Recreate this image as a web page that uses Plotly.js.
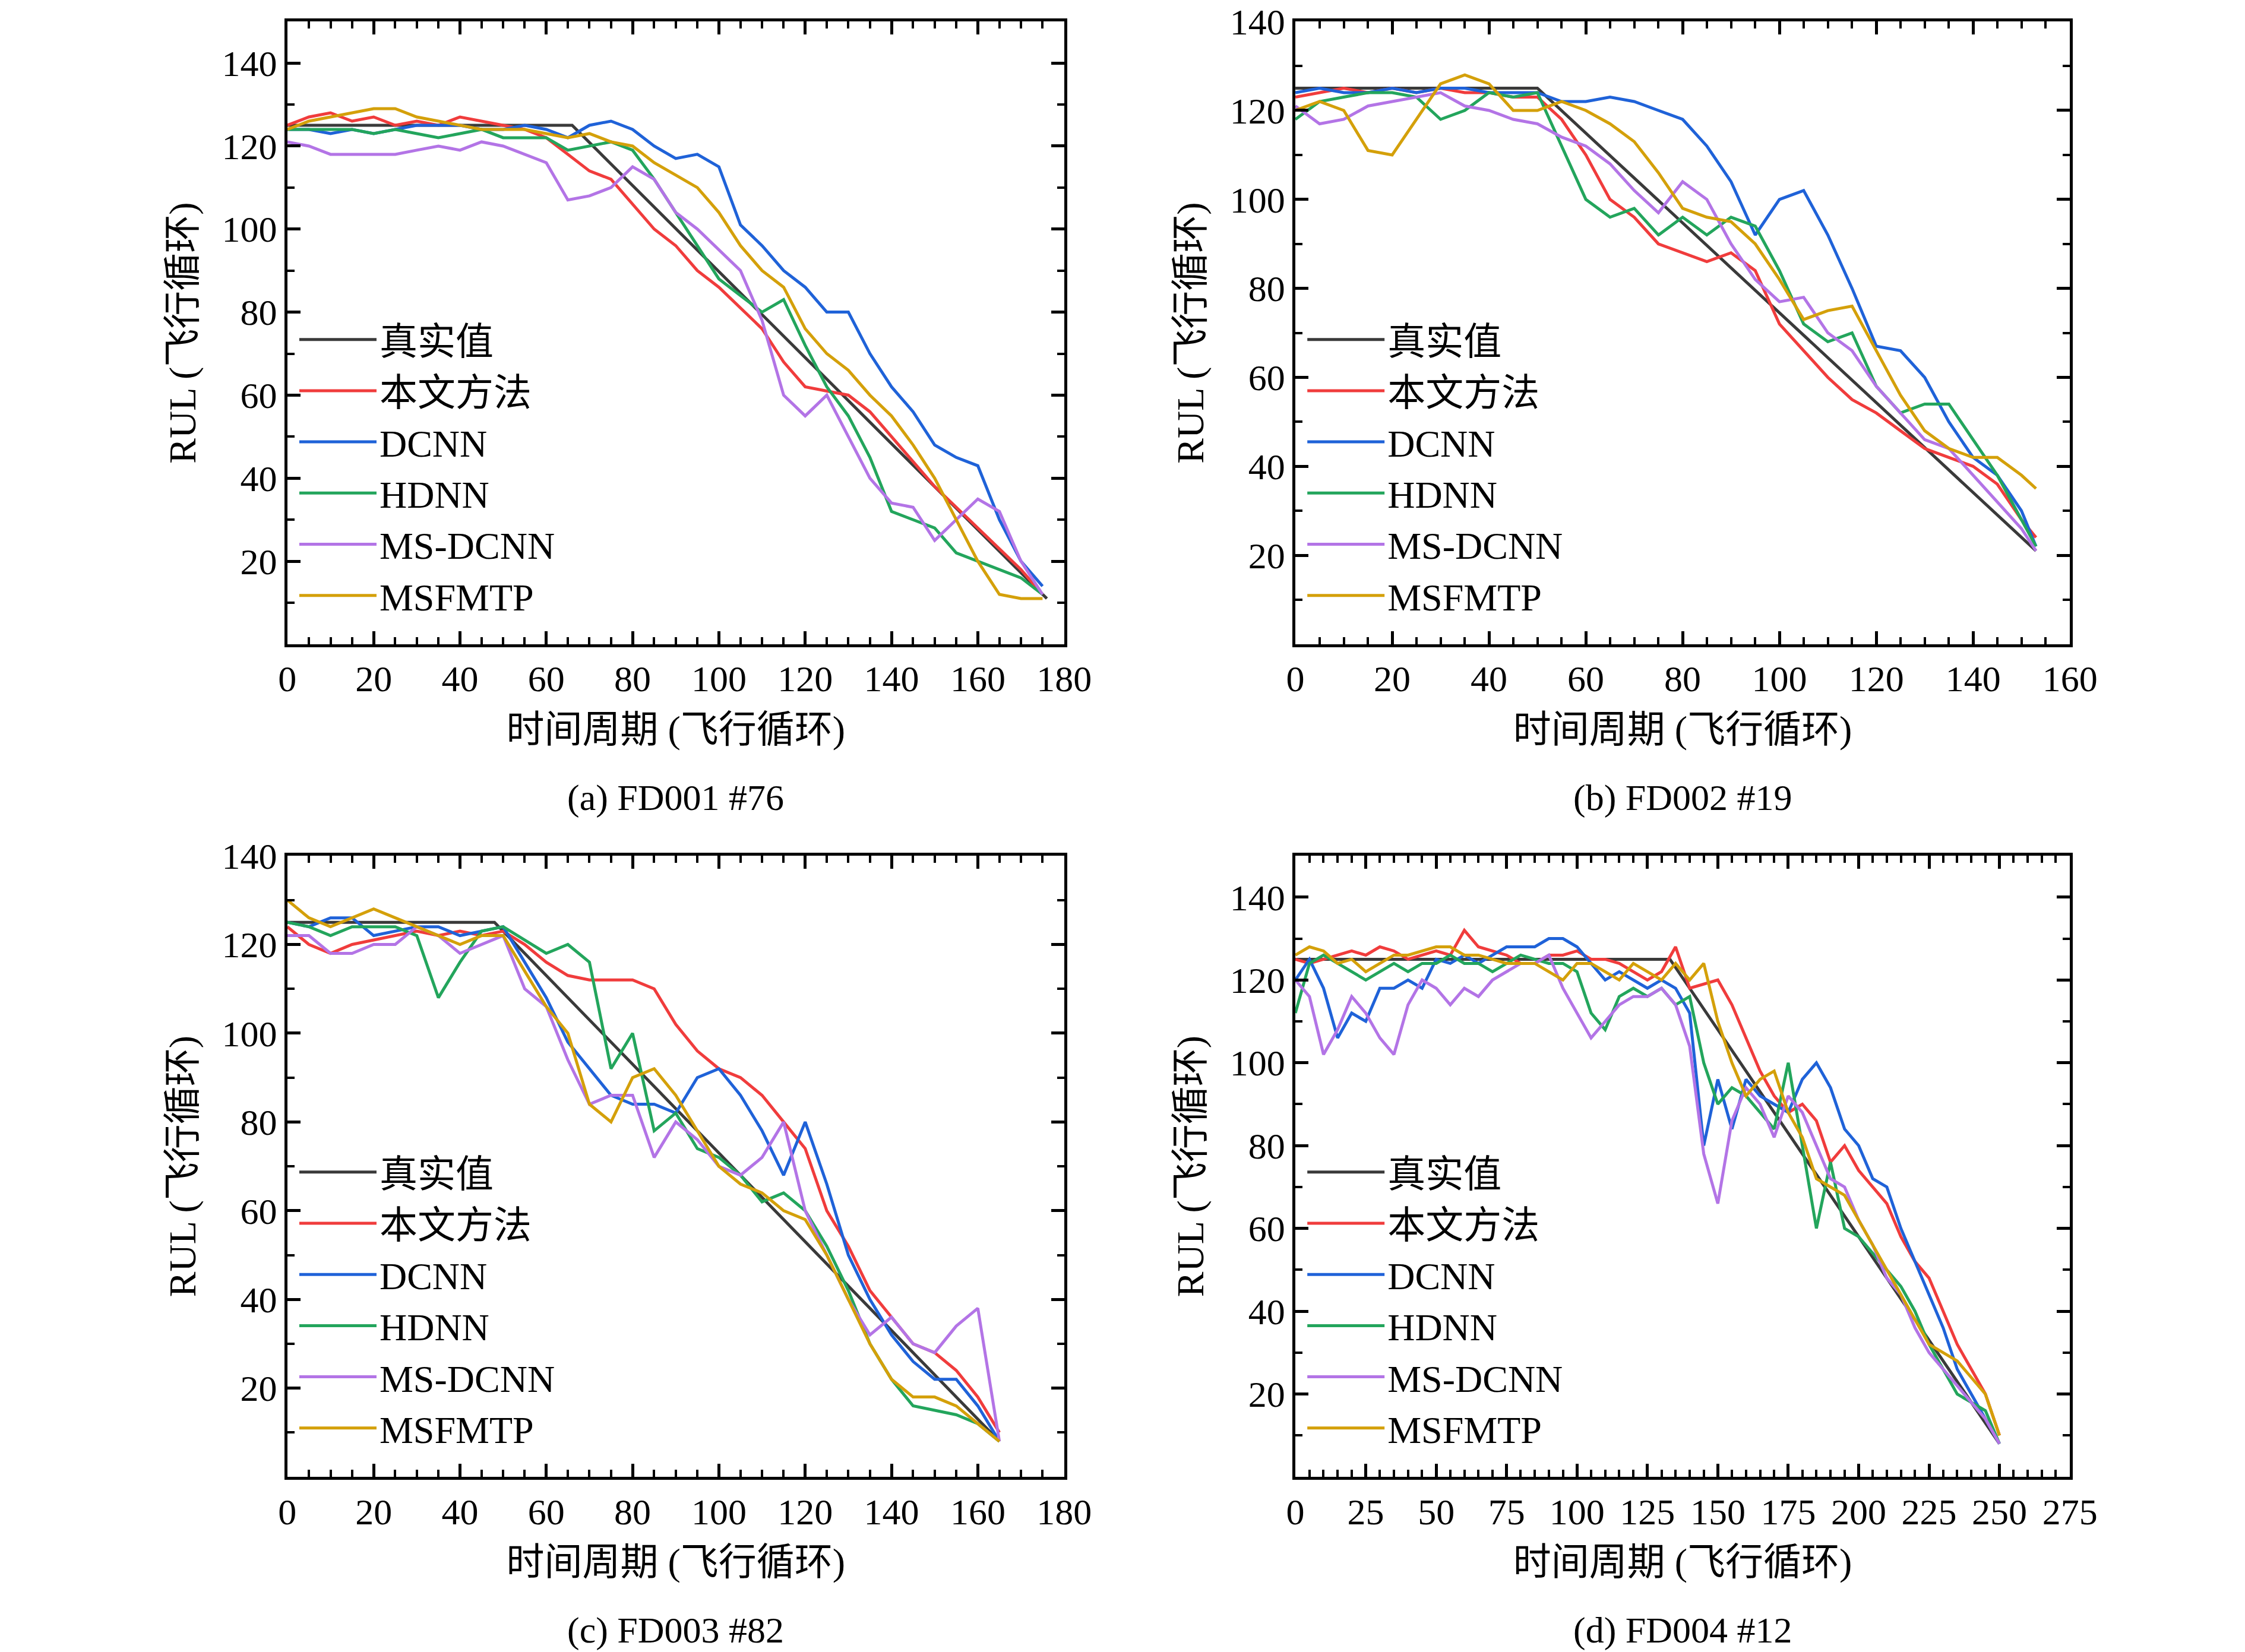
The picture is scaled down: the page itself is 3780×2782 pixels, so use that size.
<!DOCTYPE html>
<html>
<head>
<meta charset="utf-8">
<script src="https://cdn.plot.ly/plotly-3.0.1.min.js"></script>
<style>body{margin:0;background:#fff}#chart{width:3780px;height:2782px}</style>
</head>
<body>
<div id="chart"></div>
<script>
const names = ['真实值', '本文方法', 'DCNN', 'HDNN', 'MS-DCNN', 'MSFMTP'];
const colors = ['#3a3a3a', '#f03c3c', '#1f62d8', '#23a55c', '#b374e6', '#d4a00a'];

// (a) FD001 #76
const xA = [0,5,10,15,20,25,30,35,40,45,50,55,60,65,70,75,80,85,90,95,100,105,110,115,120,125,130,135,140,145,150,155,160,165,170,175];
const trueA = {x: [0, 66, 176], y: [125, 125, 11]};
const redA = [125,127,128,126,127,125,126,125,127,126,125,124,122,118,114,112,106,100,96,90,86,81,76,68,62,61,60,56,50,44,38,33,28,23,18,12];
const blueA = [124,124,123,124,123,124,125,125,125,124,124,125,124,122,125,126,124,120,117,118,115,101,96,90,86,80,80,70,62,56,48,45,43,30,20,14];
const greenA = [124,124,124,124,123,124,123,122,123,124,122,122,122,119,120,121,119,112,104,96,88,84,80,83,72,62,55,45,32,30,28,22,20,18,16,12];
const purpleA = [121,120,118,118,118,118,119,120,119,121,120,118,116,107,108,110,115,112,104,100,95,90,78,60,55,60,50,40,34,33,25,30,35,32,20,12];
const goldA = [124,126,127,128,129,129,127,126,125,124,124,124,123,122,123,121,120,116,113,110,104,96,90,86,76,70,66,60,55,48,40,30,20,12,11,11];

// (b) FD002 #19
const xB = [0,5,10,15,20,25,30,35,40,45,50,55,60,65,70,75,80,85,90,95,100,105,110,115,120,125,130,135,140,145,150,153];
const trueB = {x: [0, 50, 153], y: [125, 125, 21]};
const redB = [123,124,125,124,125,124,125,124,124,123,123,118,110,100,96,90,88,86,88,84,72,66,60,55,52,48,44,42,40,36,28,24];
const blueB = [124,125,124,124,125,124,125,125,124,124,124,122,122,123,122,120,118,112,104,92,100,102,92,80,67,66,60,50,42,38,30,22];
const greenB = [118,122,123,124,124,123,118,120,124,123,124,112,100,96,98,92,96,92,96,94,84,72,68,70,58,52,54,54,46,38,28,22];
const purpleB = [121,117,118,121,122,123,124,121,120,118,117,114,112,108,102,97,104,100,90,82,77,78,70,66,58,52,46,44,38,32,26,21];
const goldB = [120,122,120,111,110,118,126,128,126,120,120,122,120,117,113,106,98,96,95,90,82,73,75,76,66,56,48,44,42,42,38,35];

// (c) FD003 #82
const xC = [0,5,10,15,20,25,30,35,40,45,50,55,60,65,70,75,80,85,90,95,100,105,110,115,120,125,130,135,140,145,150,155,160,165];
const trueC = {x: [0, 48, 165], y: [125, 125, 8]};
const redC = [124,120,118,120,121,122,123,122,123,122,123,120,116,113,112,112,112,110,102,96,92,90,86,80,74,60,52,42,36,30,28,24,18,10];
const blueC = [125,124,126,126,122,123,124,124,122,123,124,116,108,98,92,86,84,84,82,90,92,86,78,68,80,66,50,40,32,26,22,22,16,8];
const greenC = [125,124,122,124,124,124,122,108,116,123,124,121,118,120,116,92,100,78,82,74,72,68,62,64,60,52,42,30,22,16,15,14,12,8];
const purpleC = [122,122,118,118,120,120,124,122,118,120,122,110,106,94,84,86,86,72,80,76,70,68,72,80,60,50,40,32,36,30,28,34,38,8];
const goldC = [130,126,124,126,128,126,124,122,120,122,122,114,106,100,84,80,90,92,86,78,70,66,64,60,58,50,40,30,22,18,18,16,12,8];

// (d) FD004 #12
const xD = [0,5,10,15,20,25,30,35,40,45,50,55,60,65,70,75,80,85,90,95,100,105,110,115,120,125,130,135,140,145,150,155,160,165,170,175,180,185,190,195,200,205,210,215,220,225,230,235,240,245,250];
const trueD = {x: [0, 133, 250], y: [125, 125, 8]};
const redD = [125,124,125,126,127,126,128,127,125,126,127,126,132,128,127,126,124,124,126,126,127,125,125,124,122,120,122,128,118,119,120,114,106,98,92,88,90,86,76,80,74,70,66,58,52,48,40,32,26,20,10];
const blueD = [120,125,118,106,112,110,118,118,120,118,125,124,126,124,126,128,128,128,130,130,128,124,120,122,120,118,120,118,112,80,96,84,96,92,90,88,96,100,94,84,80,72,70,60,52,44,36,26,20,14,8];
const greenD = [112,124,126,124,122,120,122,124,122,124,124,126,124,124,122,124,126,125,124,124,122,112,108,116,118,116,118,114,116,100,90,94,92,88,84,100,80,60,76,60,58,54,50,46,40,32,26,20,18,16,8];
const purpleD = [120,116,102,108,116,112,106,102,114,120,118,114,118,116,120,122,124,124,126,118,112,106,110,114,116,116,118,114,104,78,66,86,94,90,82,92,88,80,72,70,62,56,48,44,36,30,26,22,18,14,8];
const goldD = [126,128,127,124,125,122,124,126,126,127,128,128,126,126,125,124,124,124,122,120,124,124,122,120,124,122,120,124,120,124,110,100,92,96,98,88,82,72,70,68,62,56,50,44,38,32,30,28,24,20,10];

const panels = [
  {x: xA, t: trueA, s: [redA, blueA, greenA, purpleA, goldA], xr: [0, 180], xd: 20, yr: [0, 150], cap: '(a) FD001 #76'},
  {x: xB, t: trueB, s: [redB, blueB, greenB, purpleB, goldB], xr: [0, 160], xd: 20, yr: [0, 140], cap: '(b) FD002 #19'},
  {x: xC, t: trueC, s: [redC, blueC, greenC, purpleC, goldC], xr: [0, 180], xd: 20, yr: [0, 140], cap: '(c) FD003 #82'},
  {x: xD, t: trueD, s: [redD, blueD, greenD, purpleD, goldD], xr: [0, 275], xd: 25, yr: [0, 150], cap: '(d) FD004 #12'}
];

const font = 'Liberation Serif, Noto Sans CJK SC, serif';
const xDom = [[0.128, 0.474], [0.577, 0.922]];
const yDom = [[0.610, 0.987], [0.106, 0.482]];

const data = [];
const layout = {
  width: 3780, height: 2782,
  paper_bgcolor: '#fff', plot_bgcolor: '#fff',
  font: {family: font, size: 60, color: '#000'},
  margin: {l: 0, r: 0, t: 0, b: 0},
  showlegend: true,
  annotations: []
};

panels.forEach((p, i) => {
  const n = i + 1;
  const xa = n === 1 ? 'x' : 'x' + n;
  const ya = n === 1 ? 'y' : 'y' + n;
  const lg = n === 1 ? 'legend' : 'legend' + n;
  const xd = xDom[i % 2], yd = yDom[Math.floor(i / 2)];

  data.push({x: p.t.x, y: p.t.y, name: names[0], mode: 'lines', xaxis: xa, yaxis: ya, legend: lg,
    line: {color: colors[0], width: 5}});
  p.s.forEach((ys, k) => {
    data.push({x: p.x, y: ys, name: names[k + 1], mode: 'lines', xaxis: xa, yaxis: ya, legend: lg,
      line: {color: colors[k + 1], width: 5}});
  });

  const axCommon = {
    showline: true, mirror: 'ticks', linecolor: '#000', linewidth: 5,
    ticks: 'inside', ticklen: 22, tickwidth: 5, tickcolor: '#000',
    minor: {ticks: 'inside', ticklen: 12, tickwidth: 4, tickcolor: '#000'},
    showgrid: false, zeroline: false, tickfont: {family: font, size: 62}
  };
  layout['xaxis' + (n === 1 ? '' : n)] = Object.assign({}, axCommon, {
    domain: xd, anchor: ya, range: p.xr, dtick: p.xd, tick0: 0,
    title: {text: '时间周期 (飞行循环)', font: {family: font, size: 64}, standoff: 30}
  });
  layout['yaxis' + (n === 1 ? '' : n)] = Object.assign({}, axCommon, {
    domain: yd, anchor: xa, range: p.yr, dtick: 20, tick0: 0,
    tickvals: [20, 40, 60, 80, 100, 120, 140],
    title: {text: 'RUL (飞行循环)', font: {family: font, size: 64}, standoff: 25}
  });
  layout[lg] = {
    x: xd[0] + 0.004, y: yd[0] + 0.012, xanchor: 'left', yanchor: 'bottom',
    xref: 'paper', yref: 'paper', bgcolor: 'rgba(0,0,0,0)',
    font: {family: font, size: 64}, itemwidth: 130, tracegroupgap: 0
  };
  layout.annotations.push({
    text: p.cap, xref: 'paper', yref: 'paper', x: (xd[0] + xd[1]) / 2, y: yd[0] - 0.093,
    xanchor: 'center', yanchor: 'middle', showarrow: false, font: {family: font, size: 62}
  });
});

Plotly.newPlot('chart', data, layout, {staticPlot: true});
</script>
</body>
</html>
